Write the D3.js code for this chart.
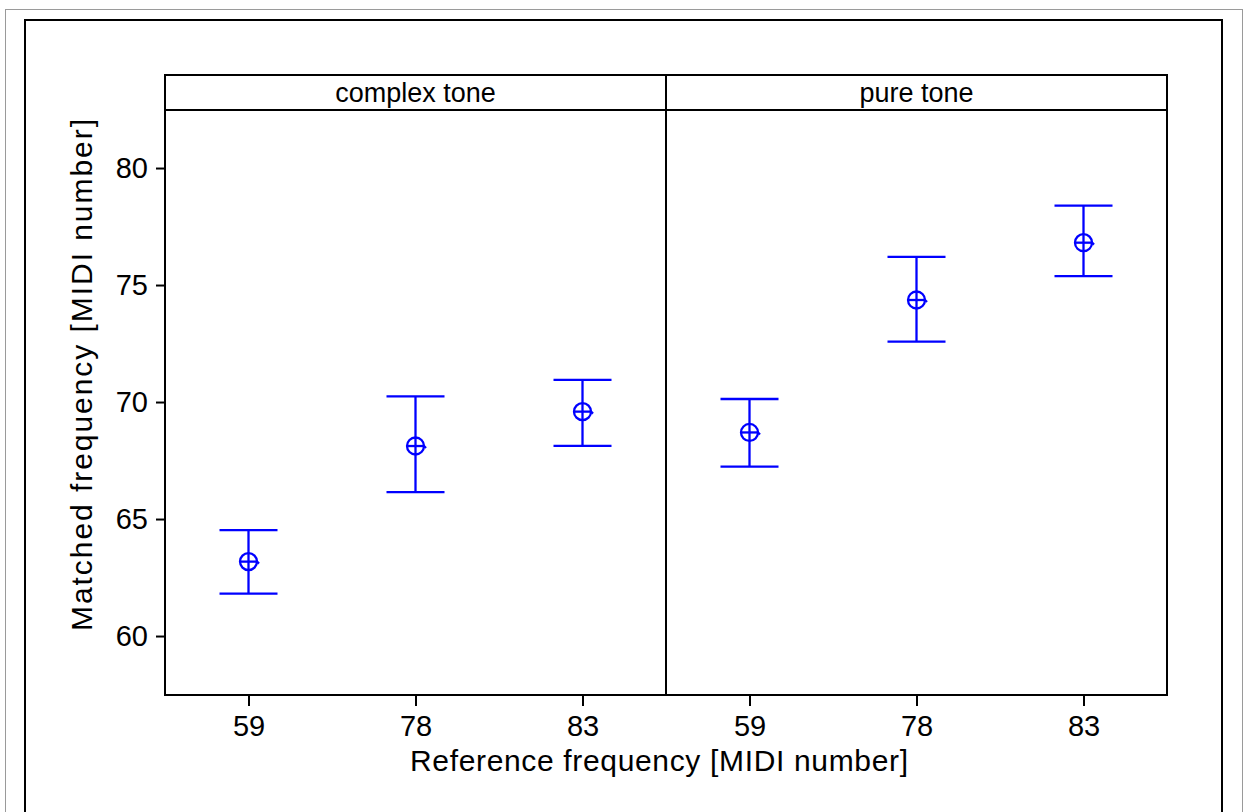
<!DOCTYPE html>
<html>
<head>
<meta charset="utf-8">
<script src="https://cdn.jsdelivr.net/npm/d3@7"></script>
<style>
  body { margin: 0; background: #fff; }
  svg { display: block; font-family: "Liberation Sans", Arial, sans-serif; }
</style>
</head>
<body>
<div id="chart"></div>
<script>
// panels and categories
const tones = ["complex tone", "pure tone"]
const refs = ["59", "78", "83"]
const yTicks = [60, 65, 70, 75, 80]

// matched frequency (means and error bar ends)
const complexMean  = [63.18, 68.12, 69.59]
const complexLower = [61.81, 66.15, 68.13]
const complexUpper = [64.53, 70.24, 70.95]
const pureMean  = [68.70, 74.36, 76.81]
const pureLower = [67.24, 72.58, 75.38]
const pureUpper = [70.13, 76.20, 78.39]

function drawChart() {
    const width = 1246
    const height = 812
    const blue = "#0000ff"

    const plotLeft = 165, plotRight = 1167
    const stripTop = 75, plotTop = 110, plotBottom = 695
    const panelW = (plotRight - plotLeft) / tones.length

    const svg = d3.select("#chart")
        .append("svg")
        .attr("width", width)
        .attr("height", height)

    // outer frames
    svg.append("rect")
        .attr("x", 5.5).attr("y", 9.5)
        .attr("width", 1237).attr("height", 820)
        .attr("fill", "none").attr("stroke", "#9a9a9a").attr("stroke-width", 1)
    svg.append("rect")
        .attr("x", 25).attr("y", 20)
        .attr("width", 1197).attr("height", 820)
        .attr("fill", "none").attr("stroke", "#000").attr("stroke-width", 2)

    const y = d3.scaleLinear()
        .domain([57.48, 82.48])
        .range([plotBottom, plotTop])

    const series = [
        { mean: complexMean, lower: complexLower, upper: complexUpper },
        { mean: pureMean, lower: pureLower, upper: pureUpper }
    ]

    tones.forEach((tone, i) => {
        const x0 = plotLeft + i * panelW
        const x = d3.scalePoint()
            .domain(refs)
            .range([x0, x0 + panelW])
            .padding(0.5)

        const g = svg.append("g")

        // strip
        g.append("rect")
            .attr("x", x0).attr("y", stripTop)
            .attr("width", panelW).attr("height", plotTop - stripTop)
            .attr("fill", "#fff").attr("stroke", "#000").attr("stroke-width", 2)
        g.append("text")
            .attr("x", x0 + panelW / 2)
            .attr("y", 102)
            .attr("text-anchor", "middle")
            .attr("font-size", 27)
            .attr("fill", "#000")
            .text(tone)

        // panel box
        g.append("rect")
            .attr("x", x0).attr("y", plotTop)
            .attr("width", panelW).attr("height", plotBottom - plotTop)
            .attr("fill", "none").attr("stroke", "#000").attr("stroke-width", 2)

        // x axis
        const xAxis = g.append("g")
            .attr("transform", `translate(0,${plotBottom})`)
            .call(d3.axisBottom(x).tickSize(11).tickSizeOuter(0).tickPadding(9))
        xAxis.select(".domain").remove()
        xAxis.selectAll("line").attr("stroke", "#000").attr("stroke-width", 2)
        xAxis.selectAll("text")
            .attr("font-size", 29)
            .attr("font-family", "'Liberation Sans', Arial, sans-serif")
            .attr("fill", "#000")

        // error bars
        const s = series[i]
        const pts = refs.map((r, j) => ({ r, m: s.mean[j], lo: s.lower[j], hi: s.upper[j] }))
        const cap = 29
        const rad = 8.5

        const bars = g.append("g")
            .attr("stroke", blue)
            .attr("stroke-width", 2.3)
            .attr("fill", "none")
            .selectAll("g")
            .data(pts)
            .join("g")

        bars.append("line")
            .attr("x1", d => x(d.r)).attr("x2", d => x(d.r))
            .attr("y1", d => y(d.lo)).attr("y2", d => y(d.hi))
        bars.append("line")
            .attr("x1", d => x(d.r) - cap).attr("x2", d => x(d.r) + cap)
            .attr("y1", d => y(d.hi)).attr("y2", d => y(d.hi))
        bars.append("line")
            .attr("x1", d => x(d.r) - cap).attr("x2", d => x(d.r) + cap)
            .attr("y1", d => y(d.lo)).attr("y2", d => y(d.lo))
        bars.append("circle")
            .attr("cx", d => x(d.r)).attr("cy", d => y(d.m))
            .attr("r", rad)
        bars.append("line")
            .attr("x1", d => x(d.r) - rad).attr("x2", d => x(d.r) + rad)
            .attr("y1", d => y(d.m)).attr("y2", d => y(d.m))
        bars.append("line")
            .attr("x1", d => x(d.r) + rad - 1).attr("x2", d => x(d.r) + rad + 2)
            .attr("y1", d => y(d.m) - 1).attr("y2", d => y(d.m) + 2)
    })

    // y axis
    const yAxis = svg.append("g")
        .attr("transform", `translate(${plotLeft},0)`)
        .call(d3.axisLeft(y).tickValues(yTicks).tickSize(9).tickSizeOuter(0).tickPadding(8))
    yAxis.select(".domain").remove()
    yAxis.selectAll("line").attr("stroke", "#000").attr("stroke-width", 2)
    yAxis.selectAll("text")
        .attr("font-size", 29)
        .attr("font-family", "'Liberation Sans', Arial, sans-serif")
        .attr("fill", "#000")

    // axis titles
    svg.append("text")
        .attr("x", 659)
        .attr("y", 771)
        .attr("text-anchor", "middle")
        .attr("font-size", 30)
        .attr("textLength", 498)
        .attr("lengthAdjust", "spacing")
        .text("Reference frequency [MIDI number]")

    svg.append("text")
        .attr("transform", "translate(92,375) rotate(-90)")
        .attr("text-anchor", "middle")
        .attr("font-size", 30)
        .attr("textLength", 512)
        .attr("lengthAdjust", "spacing")
        .text("Matched frequency [MIDI number]")
}

drawChart()
</script>
</body>
</html>
